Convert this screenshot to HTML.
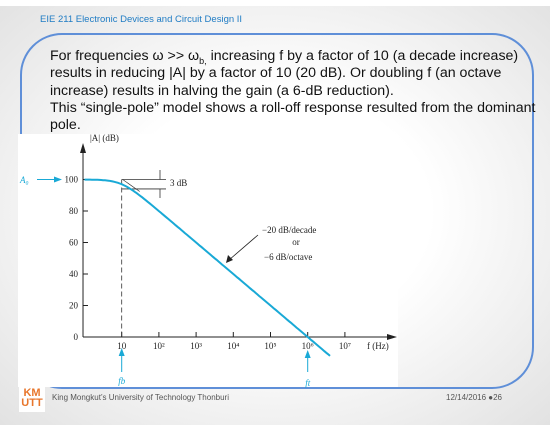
<!DOCTYPE html>
<html><head><meta charset="utf-8"><style>
html,body{margin:0;padding:0}
body{width:550px;height:425px;overflow:hidden;position:relative;font-family:"Liberation Sans",sans-serif;
background:radial-gradient(ellipse at 50% 50%,#ffffff 40%,#e2e2e2 100%);}
.t{position:absolute;white-space:nowrap}
.sub{font-size:9px;position:relative;top:4px;line-height:0}
</style></head><body>
<div style="position:absolute;left:0;top:0;width:550px;height:6px;background:#fff"></div>
<div class="t" style="left:40px;top:14px;font-size:9.5px;color:#1f7cc4">EIE 211 Electronic Devices and Circuit Design II</div>
<div style="position:absolute;left:20px;top:33px;width:510px;height:352px;border:2px solid #5f8fd8;border-radius:42px;"></div>
<div class="t" style="left:50px;top:48px;font-size:14.2px;line-height:17.3px;color:#111">
For frequencies ω &gt;&gt; ω<span class="sub">b,</span> increasing f by a factor of 10 (a decade increase)<br>
results in reducing |A| by a factor of 10 (20 dB). Or doubling f (an octave<br>
increase) results in halving the gain (a 6-dB reduction).<br>
This “single-pole” model shows a roll-off response resulted from the dominant<br>pole.</div>
<svg style="position:absolute;left:0;top:0" width="550" height="425">
<rect x="18" y="134" width="380" height="253" fill="#fff"/>
<g id="g" font-family="Liberation Serif,serif" font-size="9" fill="#222"></g>
</svg>
<div class="t" style="left:19px;top:386px;width:26px;height:24px;background:#fff;color:#e8762c;font-size:11px;line-height:10px;font-weight:bold;text-align:center;padding-top:2px">KM<br>UTT</div>
<div class="t" style="left:52px;top:393px;font-size:8px;color:#555">King Mongkut’s University of Technology Thonburi</div>
<div class="t" style="left:446px;top:393px;font-size:8px;color:#555">12/14/2016 ●26</div>
<script>
const yTicks=[0,20,40,60,80,100];
const xTickExp=[1,2,3,4,5,6,7];
const xTickLabels=["10","10²","10³","10⁴","10⁵","10⁶","10⁷"];
const A0=100;
const fb=10;
const fStartExp=0, fEndExp=6.6;
const X=e=>84.5+(e)*37.2;
const Y=v=>337-v*1.575;
const g=document.getElementById('g');
const NS='http://www.w3.org/2000/svg';
function el(t,a,txt){const e=document.createElementNS(NS,t);for(const k in a)e.setAttribute(k,a[k]);if(txt!=null)e.textContent=txt;g.appendChild(e);return e;}
let a=el('line',{x1:X(-0.04),y1:Y(0),x2:390,y2:Y(0),stroke:'#222','stroke-width':1});

a=el('polygon',{points:`397,${Y(0)} 387,${Y(0)-3} 387,${Y(0)+3}`,fill:'#222'});
a=el('line',{x1:X(-0.04),y1:Y(0),x2:X(-0.04),y2:150,stroke:'#222','stroke-width':1});

a=el('polygon',{points:`${X(-0.04)},143 ${X(-0.04)-3},153 ${X(-0.04)+3},153`,fill:'#222'});
a=el('text',{x:90,y:141},'|A| (dB)');
a=el('text',{x:367,y:349},'f (Hz)');
yTicks.forEach(v=>{
 let t=el('line',{x1:X(-0.04),y1:Y(v),x2:X(-0.04)+5,y2:Y(v),stroke:'#222'});
 
 let l=el('text',{x:X(-0.04)-5,y:Y(v)+3,'text-anchor':'end'},String(v));
 
});
xTickExp.forEach((e,i)=>{
 let t=el('line',{x1:X(e),y1:Y(0),x2:X(e),y2:Y(0)-5,stroke:'#222'});
 
 let l=el('text',{x:X(e),y:Y(0)+12,'text-anchor':'middle'},xTickLabels[i]);
 
});
a=el('line',{x1:X(Math.log10(fb)),y1:Y(A0),x2:X(Math.log10(fb)),y2:Y(0),stroke:'#333','stroke-dasharray':'5,3','stroke-width':0.8});

const xb=X(Math.log10(fb));
a=el('line',{x1:xb,y1:Y(A0),x2:166,y2:Y(A0),stroke:'#333','stroke-width':0.8});
a=el('line',{x1:xb,y1:Y(A0-6),x2:166,y2:Y(A0-6),stroke:'#333','stroke-width':0.8});
a=el('line',{x1:160,y1:170,x2:160,y2:Y(A0),stroke:'#333','stroke-width':0.8});
a=el('line',{x1:160,y1:Y(A0-6),x2:160,y2:198,stroke:'#333','stroke-width':0.8});
a=el('text',{x:170,y:186},'3 dB');
a=el('line',{x1:X(Math.log10(fb))+1,y1:Y(A0),x2:X(Math.log10(fb))+18,y2:Y(A0)+12,stroke:'#333','stroke-width':0.7});
let d='';
for(let e=fStartExp;e<=fEndExp+1e-9;e+=0.05){const f=Math.pow(10,e);const v=A0-10*Math.log10(1+(f/fb)**2);d+=(d?'L':'M')+X(e).toFixed(1)+','+Y(v).toFixed(1);}
a=el('path',{d:d,fill:'none',stroke:'#19a9d6','stroke-width':2});

a=el('line',{x1:258,y1:235,x2:229,y2:260,stroke:'#222','stroke-width':0.8});
a=el('polygon',{points:'226,263 228,255 233,260',fill:'#222'});
a=el('text',{x:262,y:233},'−20 dB/decade');
el('text',{x:296,y:245,'text-anchor':'middle'},'or');
el('text',{x:264,y:260},'−6 dB/octave');
a=el('text',{x:20,y:183,fill:'#19a9d6','font-style':'italic'},'A₀');
el('line',{x1:37,y1:Y(A0),x2:56,y2:Y(A0),stroke:'#19a9d6'});
el('polygon',{points:`62,${Y(A0)} 54,${Y(A0)-3} 54,${Y(A0)+3}`,fill:'#19a9d6'});
[[Math.log10(fb),'fb','fb-label',348,372,384],[6,'ft','ft-label',350,372,386]].forEach(o=>{
 const x=X(o[0]);
 el('line',{x1:x,y1:o[3]+6,x2:x,y2:o[4],stroke:'#19a9d6'});
 el('polygon',{points:`${x},${o[3]} ${x-3},${o[3]+8} ${x+3},${o[3]+8}`,fill:'#19a9d6'});
 let l=el('text',{x:x,y:o[5],'text-anchor':'middle',fill:'#19a9d6','font-style':'italic'},o[1]);
 
});
</script>
</body></html>
